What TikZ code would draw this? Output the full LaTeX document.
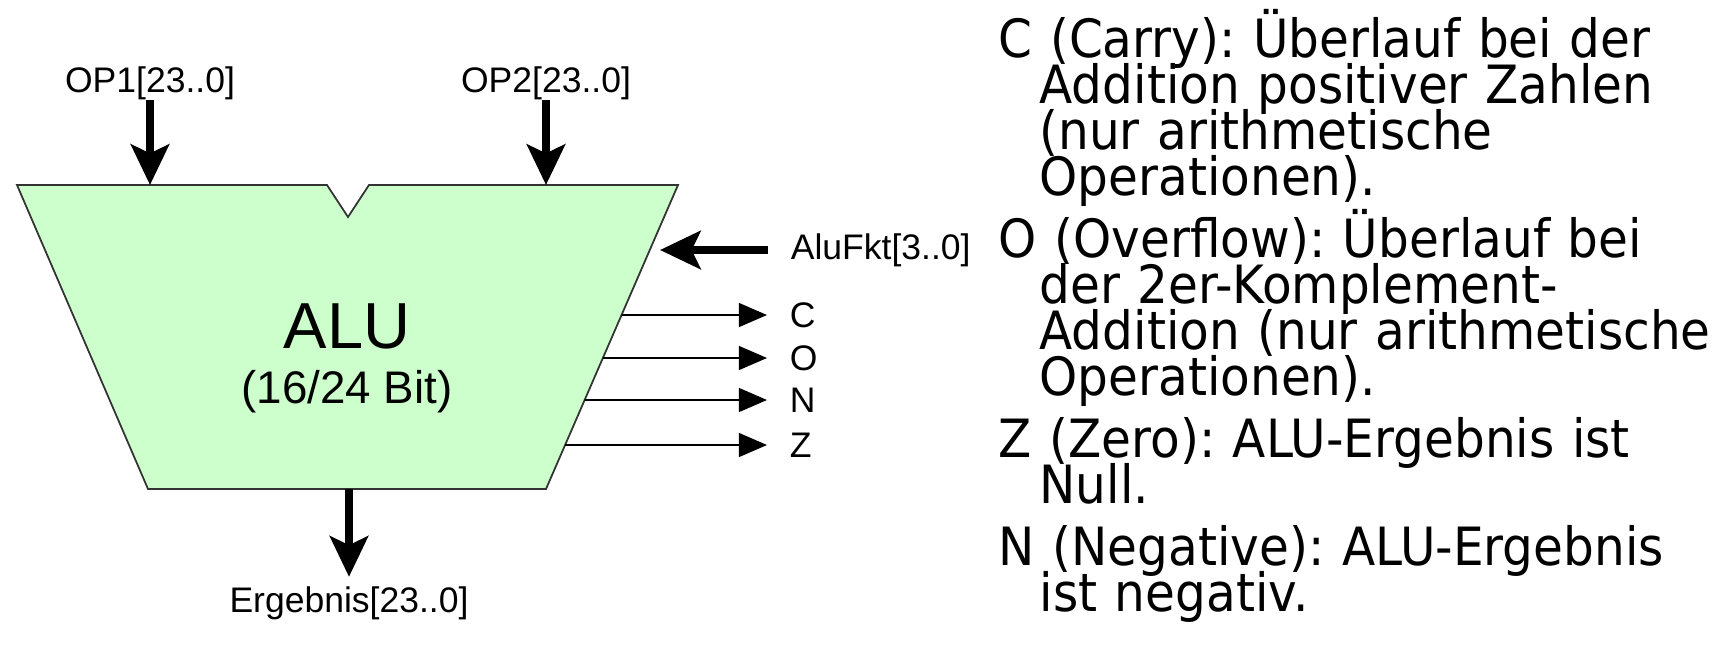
\documentclass[tikz,border=0pt]{standalone}
\usepackage{fontspec}
\setmainfont{Liberation Sans}
\newfontfamily\flagfont[FakeStretch=0.92]{DejaVu Sans}
\usetikzlibrary{arrows.meta,calc}

\definecolor{alugreen}{RGB}{204,255,204}

% one flag description: first line flush, the rest hanging
\newcommand{\flagpar}[1]{%
  \frenchspacing\lineskiplimit=-100pt\hangindent=11.6pt\hangafter=1\relax #1\par}

\tikzset{
  alubody/.style={fill=alugreen, draw=black!80, line width=0.5pt},
  bus/.style={line width=2.3pt, -{Stealth[length=11.5pt, width=10.8pt, inset=2.5pt]}},
  flagline/.style={line width=0.5pt, -{Triangle[length=8pt, width=6.8pt]}},
  sig/.style={font=\fontsize{10.1pt}{12pt}\selectfont, inner sep=0pt},
  siglabel/.style={sig, anchor=west, inner xsep=6.3pt},
  flagtext/.style={font=\flagfont\fontsize{15pt}{13.1pt}\selectfont,
    anchor=base west, text width=215pt, inner sep=0pt},
}

\begin{document}
\begin{tikzpicture}[x=0.01cm, y=-0.01cm]
  \useasboundingbox (0,0) rectangle (1724,663);

  % ALU body, notch between the operand inputs
  \coordinate (nw) at (17,185);
  \coordinate (ne) at (678,185);
  \coordinate (se) at (546,489);
  \coordinate (sw) at (148,489);
  \draw[alubody] (nw) -- (327,185) -- (348,217) -- (369,185) -- (ne)
    -- (se) -- (sw) -- cycle;
  \node[anchor=base, font=\fontsize{18.5pt}{22pt}\selectfont] (alu) at (347,348) {ALU};
  \node[anchor=base, font=\fontsize{13pt}{15pt}\selectfont] (bits) at (347,403) {(16/24 Bit)};

  % operands and result
  \node[sig, anchor=base] (op1) at (150,92) {OP1[23..0]};
  \node[sig, anchor=base] (op2) at (546,92) {OP2[23..0]};
  \node[sig, anchor=base] (res) at (349,612) {Ergebnis[23..0]};
  \coordinate (in1) at (150,185);
  \coordinate (in2) at (546,185);
  \coordinate (out) at (349,489);
  \draw[bus] (op1.south) -- (in1);
  \draw[bus] (op2.south) -- (in2);
  \draw[bus, shorten >=2.5pt] (out) -- (res.north);

  % function select
  \coordinate (fktin) at (660,250);
  \node[siglabel] (fkt) at (768,250) {AluFkt[3..0]};
  \draw[bus] (fkt.west) -- (fktin);

  % status flags
  \foreach \f/\y in {C/315, O/358, N/400, Z/445} {
    \coordinate (edge\f) at ($(ne)!{(\y-185)/304}!(se)$);
    \node[siglabel] (flag\f) at (767,\y) {\f};
    \draw[flagline] (edge\f) -- (flag\f.west);
  }

  % flag descriptions
  \node[flagtext] (itemC) at (998,57) {\flagpar{C (Carry): Überlauf bei der\newline
    Addition positiver Zahlen\newline (nur arithmetische\newline Operationen).}};
  \node[flagtext] (itemO) at (998,257) {\flagpar{O (Overflow): Überlauf bei\newline
    der 2er-Komplement-\newline Addition (nur arithmetische\newline Operationen).}};
  \node[flagtext] (itemZ) at (998,457) {\flagpar{Z (Zero): ALU-Ergebnis ist\newline
    Null.}};
  \node[flagtext] (itemN) at (998,565) {\flagpar{N (Negative): ALU-Ergebnis\newline
    ist negativ.}};
\end{tikzpicture}
\end{document}
